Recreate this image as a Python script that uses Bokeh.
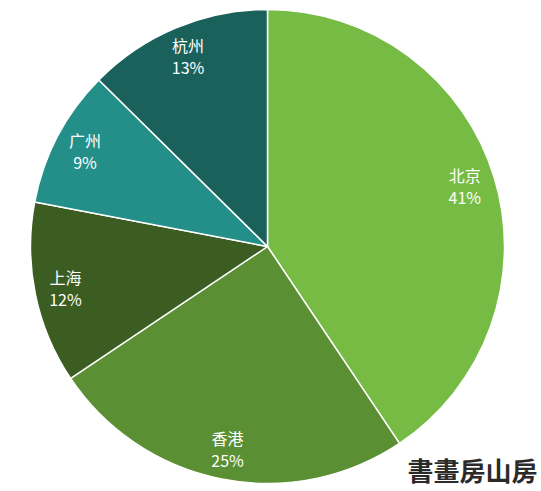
import math
from bokeh.plotting import figure
from bokeh.models import Range1d, ColumnDataSource, Label
from bokeh.core.properties import value
from bokeh.embed import file_html
from bokeh.resources import INLINE

cities = ["北京", "香港", "上海", "广州", "杭州"]
shares = [40.6, 25.0, 12.4, 9.4, 12.6]
pct_labels = ["41%", "25%", "12%", "9%", "13%"]
colors = ["#76bc44", "#5a8f33", "#3b5d22", "#238f88", "#1a615b"]

W, H = 541, 491
CX, CY = 267, 246
R = 237

total = sum(shares)
starts, ends, lx, ly = [], [], [], []
acc = 0.0
for v in shares:
    a0 = math.pi / 2 - 2 * math.pi * acc / total
    a1 = math.pi / 2 - 2 * math.pi * (acc + v) / total
    starts.append(a0)
    ends.append(a1)
    mid = (a0 + a1) / 2
    lx.append(0.87 * R * math.cos(mid))
    ly.append(0.87 * R * math.sin(mid))
    acc += v

src = ColumnDataSource(dict(start=starts, end=ends, color=colors,
                            lx=lx, ly=ly, name=cities, pct=pct_labels))

p = figure(width=W, height=H, output_backend="svg", toolbar_location=None,
           x_range=Range1d(-CX, W - CX), y_range=Range1d(-(H - CY), CY),
           min_border=0, outline_line_color=None)
p.axis.visible = False
p.grid.visible = False
p.background_fill_color = "white"
p.border_fill_color = "white"

p.wedge(x=0, y=0, radius=R, start_angle="start", end_angle="end",
        direction="clock", fill_color="color", line_color="white",
        line_width=1.5, source=src)

p.text(x="lx", y="ly", text="name", source=src, text_color="white",
       text_font=value("Noto Sans CJK SC"), text_font_size="16px",
       text_align="center", text_baseline="middle", y_offset=-11)
p.text(x="lx", y="ly", text="pct", source=src, text_color="white",
       text_font=value("Noto Sans CJK SC"), text_font_size="16px",
       text_align="center", text_baseline="middle", y_offset=11)

wm = Label(x=W - 4, y=4, x_units="screen", y_units="screen", text="書畫房山房",
           text_font="Noto Sans CJK TC", text_font_size="26px",
           text_font_style="bold", text_color="#2a2a2a", text_align="right",
           text_baseline="bottom")
p.add_layout(wm)

open("out.html", "w").write(file_html(p, INLINE))
